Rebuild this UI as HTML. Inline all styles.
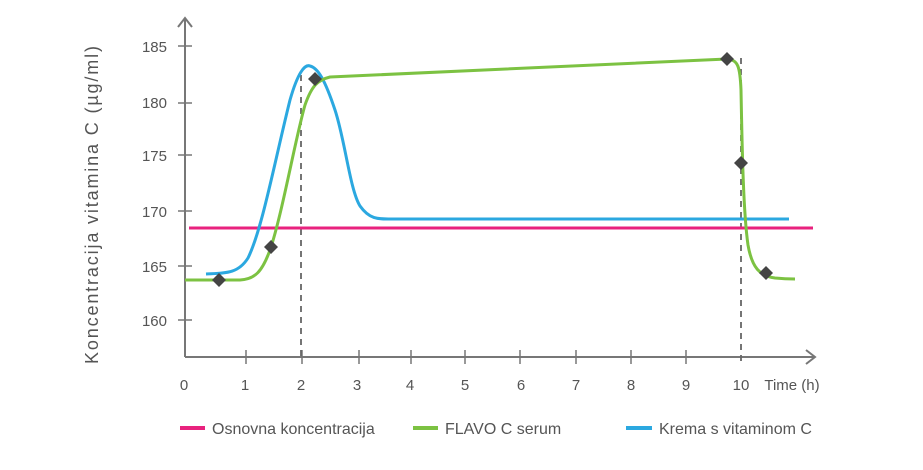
<!DOCTYPE html>
<html><head><style>body{margin:0;background:#fff;width:923px;height:465px;overflow:hidden}</style></head><body>
<svg width="923" height="465" xmlns="http://www.w3.org/2000/svg" font-family="Liberation Sans, sans-serif">
<g stroke="#777" stroke-width="2" fill="none">
<line x1="185" y1="18" x2="185" y2="357"/>
<line x1="185" y1="357" x2="815" y2="357"/>
<polyline points="178,27 185,18 192,27"/>
<polyline points="806,350 815,357 806,364"/>
<g stroke-width="1.5">
<line x1="178" y1="46" x2="192" y2="46"/><line x1="178" y1="103" x2="192" y2="103"/><line x1="178" y1="155" x2="192" y2="155"/><line x1="178" y1="211" x2="192" y2="211"/><line x1="178" y1="266" x2="192" y2="266"/><line x1="178" y1="320" x2="192" y2="320"/>
<line x1="246" y1="350" x2="246" y2="364"/><line x1="302" y1="350" x2="302" y2="364"/><line x1="359" y1="350" x2="359" y2="364"/><line x1="411" y1="350" x2="411" y2="364"/><line x1="465" y1="350" x2="465" y2="364"/><line x1="520" y1="350" x2="520" y2="364"/><line x1="576" y1="350" x2="576" y2="364"/><line x1="631" y1="350" x2="631" y2="364"/><line x1="686" y1="350" x2="686" y2="364"/>
</g>
<g stroke="#666" stroke-width="1.8" stroke-dasharray="6,5">
<line x1="301" y1="75" x2="301" y2="357"/><line x1="741" y1="58" x2="741" y2="362"/>
</g>
</g>
<g font-size="15" fill="#555" text-anchor="end">
<text x="167" y="52">185</text><text x="167" y="108">180</text><text x="167" y="161">175</text><text x="167" y="217">170</text><text x="167" y="272">165</text><text x="167" y="326">160</text>
</g>
<g font-size="15" fill="#555" text-anchor="middle">
<text x="184" y="390">0</text><text x="245" y="390">1</text><text x="301" y="390">2</text><text x="357" y="390">3</text><text x="410" y="390">4</text><text x="465" y="390">5</text><text x="521" y="390">6</text><text x="576" y="390">7</text><text x="631" y="390">8</text><text x="686" y="390">9</text><text x="741" y="390">10</text>
<text x="792" y="390" font-size="15">Time (h)</text>
</g>
<text transform="translate(98,205) rotate(-90)" font-size="18" fill="#555" text-anchor="middle" textLength="318" lengthAdjust="spacing">Koncentracija vitamina C (µg/ml)</text>
<line x1="189" y1="228" x2="813" y2="228" stroke="#e8227e" stroke-width="3"/>
<path d="M206,274 C225,273 238,274 248,258 C262,230 275,160 290,100 C298,72 305,64 310,66 C318,68 325,80 335,110 C345,140 350,190 360,206 C370,220 378,219 395,219 L789,219" fill="none" stroke="#2ba8e0" stroke-width="3"/>
<path d="M185,280 L240,280 C255,279 262,272 270,250 C282,215 295,140 305,105 C312,85 318,80 330,77 L727,59 C738,60 740,66 741,90 C742,140 743,210 748,245 C752,268 760,276 775,278 C785,279 790,279 795,279" fill="none" stroke="#7cc242" stroke-width="3"/>
<g fill="#444">
<path d="M219,273 l7,7 l-7,7 l-7,-7z"/><path d="M271,240 l7,7 l-7,7 l-7,-7z"/><path d="M315,72 l7,7 l-7,7 l-7,-7z"/><path d="M727,52 l7,7 l-7,7 l-7,-7z"/><path d="M741,156 l7,7 l-7,7 l-7,-7z"/><path d="M766,266 l7,7 l-7,7 l-7,-7z"/>
</g>
<g font-size="16" fill="#555">
<line x1="180" y1="428" x2="205" y2="428" stroke="#e8227e" stroke-width="4"/><text x="212" y="434">Osnovna koncentracija</text>
<line x1="413" y1="428" x2="438" y2="428" stroke="#7cc242" stroke-width="4"/><text x="445" y="434">FLAVO C serum</text>
<line x1="626" y1="428" x2="652" y2="428" stroke="#2ba8e0" stroke-width="4"/><text x="659" y="434">Krema s vitaminom C</text>
</g>
</svg>
</body></html>
